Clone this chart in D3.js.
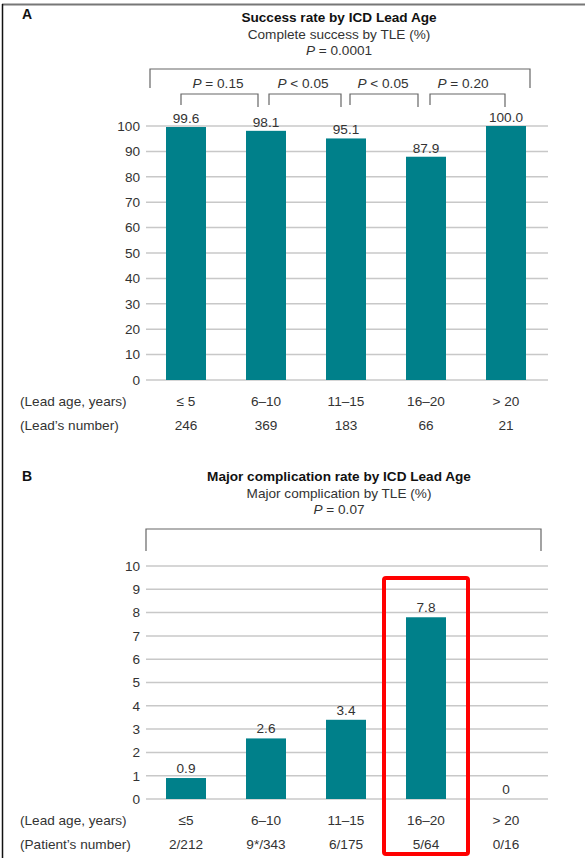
<!DOCTYPE html>
<html><head><meta charset="utf-8">
<script src="https://cdn.jsdelivr.net/npm/d3@7"></script>
<style>body{margin:0;background:#fff}svg{display:block}text{font-family:"Liberation Sans",Arial,sans-serif;fill:#333}</style>
</head><body>
<svg id="c" width="585" height="858"></svg>
<script>
const categoriesA = ["≤ 5", "6–10", "11–15", "16–20", "> 20"];
const successRate = [99.6, 98.1, 95.1, 87.9, 100.0];
const leadNumbers = ["246", "369", "183", "66", "21"];
const ticksA = [0,10,20,30,40,50,60,70,80,90,100];
const pairP = ["= 0.15", "< 0.05", "< 0.05", "= 0.20"];

const categoriesB = ["≤5", "6–10", "11–15", "16–20", "> 20"];
const complicationRate = [0.9, 2.6, 3.4, 7.8, 0];
const patientNumbers = ["2/212", "9*/343", "6/175", "5/64", "0/16"];
const ticksB = [0,1,2,3,4,5,6,7,8,9,10];

const svg = d3.select("#c");
const teal = "#00808a";
const FS = 13.6;

// frame
svg.append("line").attr("x1",2).attr("x2",585).attr("y1",4.5).attr("y2",4.5).attr("stroke","#777").attr("stroke-width",2);
svg.append("line").attr("x1",2.5).attr("x2",2.5).attr("y1",4).attr("y2",858).attr("stroke","#111").attr("stroke-width",1.5);

const x = d3.scaleBand().domain(d3.range(5)).range([146,546]).paddingInner(0.5).paddingOuter(0.25);

function titleBlock(letter, ly, title, sub, pval, ty){
  svg.append("text").attr("x",22).attr("y",ly).attr("font-weight","bold").attr("font-size",14).style("fill","#111").text(letter);
  svg.append("text").attr("x",339).attr("y",ty).attr("text-anchor","middle").attr("font-weight","bold").attr("font-size",FS).style("fill","#111").text(title);
  svg.append("text").attr("x",339).attr("y",ty+16.5).attr("text-anchor","middle").attr("font-size",FS).text(sub);
  const t = svg.append("text").attr("x",339).attr("y",ty+33).attr("text-anchor","middle").attr("font-size",FS);
  t.append("tspan").attr("font-style","italic").text("P");
  t.append("tspan").text(" " + pval);
}

function bracket(x1,x2,top,b1,b2){
  svg.append("path").attr("d",`M${x1},${b1}V${top}H${x2}V${b2}`).attr("fill","none").attr("stroke","#666").attr("stroke-width",1.2);
}

function panel(vals, cats, counts, ticks, y, countLabel, labelDy, fmt){
  const g = svg.append("g");
  const axis = d3.axisLeft(y).tickValues(ticks).tickSize(0).tickPadding(0).tickFormat(d3.format("d"));
  const ga = g.append("g").attr("transform","translate(140,0)").call(axis);
  ga.select(".domain").remove();
  ga.selectAll("text").attr("font-size",FS).attr("font-family","Liberation Sans, Arial, sans-serif").style("fill","#333");
  g.selectAll(".grid").data(ticks).join("line").attr("x1",146).attr("x2",548)
    .attr("y1",d=>y(d)).attr("y2",d=>y(d)).attr("stroke","#c8c8c8").attr("stroke-width",1.5);
  g.selectAll(".bar").data(vals).join("rect").attr("x",(d,i)=>x(i)).attr("width",x.bandwidth())
    .attr("y",d=>y(d)).attr("height",d=>y(0)-y(d)).attr("fill",teal);
  g.selectAll(".vl").data(vals).join("text").attr("x",(d,i)=>x(i)+x.bandwidth()/2).attr("y",d=>y(d)-labelDy)
    .attr("text-anchor","middle").attr("font-size",FS).text(d=>fmt(d));
  const yc = y(0)+26, yn = y(0)+50;
  g.append("text").attr("x",20).attr("y",yc).attr("font-size",FS).text("(Lead age, years)");
  g.append("text").attr("x",20).attr("y",yn).attr("font-size",FS).text(countLabel);
  g.selectAll(".cat").data(cats).join("text").attr("x",(d,i)=>x(i)+x.bandwidth()/2).attr("y",yc)
    .attr("text-anchor","middle").attr("font-size",FS).text(d=>d);
  g.selectAll(".cnt").data(counts).join("text").attr("x",(d,i)=>x(i)+x.bandwidth()/2).attr("y",yn)
    .attr("text-anchor","middle").attr("font-size",FS).text(d=>d);
}

// Panel A
titleBlock("A", 19, "Success rate by ICD Lead Age", "Complete success by TLE (%)", "= 0.0001", 22);
const yA = d3.scaleLinear().domain([0,100]).range([380,126]);
bracket(150,530,69,88,88);
const smallB = [[181,258],[269,341],[350,418],[430,505]];
smallB.forEach((b,i)=>bracket(b[0],b[1],94,105,107));
pairP.forEach((p,i)=>{
  const cx = (x(i)+x(i+1))/2 + x.bandwidth()/2 - (i===0 ? 8 : 3);
  const t = svg.append("text").attr("x",cx).attr("y",88).attr("text-anchor","middle").attr("font-size",FS);
  t.append("tspan").attr("font-style","italic").text("P");
  t.append("tspan").text(" " + p);
});
panel(successRate, categoriesA, leadNumbers, ticksA, yA, "(Lead’s number)", 4, d3.format(".1f"));

// Panel B
titleBlock("B", 481, "Major complication rate by ICD Lead Age", "Major complication by TLE (%)", "= 0.07", 481);
const yB = d3.scaleLinear().domain([0,10]).range([799,566]);
bracket(146,541,529,551,551);
panel(complicationRate, categoriesB, patientNumbers, ticksB, yB, "(Patient’s number)", 5, d=> d===0 ? "0" : d3.format(".1f")(d));

// red highlight box around 16–20
svg.append("rect").attr("x",x(3)-22).attr("y",578).attr("width",x.bandwidth()+44).attr("height",276)
  .attr("rx",2).attr("fill","none").attr("stroke","#ff0000").attr("stroke-width",4);
</script>
</body></html>
